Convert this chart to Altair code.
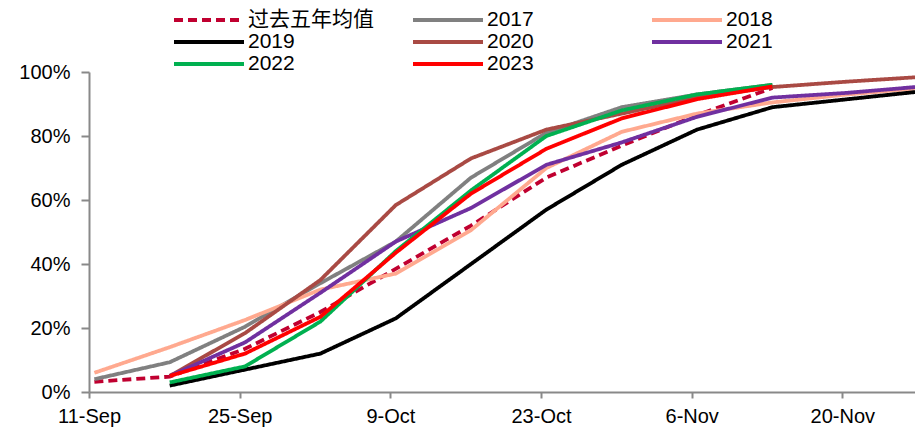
import altair as alt
import pandas as pd

# Weekly observation dates (mid-day of each Monday)
weeks = [
    "2023-09-11T12:00", "2023-09-18T12:00", "2023-09-25T12:00", "2023-10-02T12:00",
    "2023-10-09T12:00", "2023-10-16T12:00", "2023-10-23T12:00", "2023-10-30T12:00",
    "2023-11-06T12:00", "2023-11-13T12:00", "2023-11-20T12:00", "2023-11-27T12:00",
]

series_names = ["过去五年均值", "2017", "2018", "2019", "2020", "2021", "2022", "2023"]
series_colors = ["#C00030", "#808080", "#FFA98F", "#000000", "#A94A44", "#7030A0", "#00B050", "#FF0000"]

# Cumulative progress, percent
avg_5y = [3.2, 4.8, 13.5, 25, 38.5, 52, 67, 77, 86.5, 95]
y2017 = [4, 9.3, 20.4, 34, 47, 67, 81, 89, 93, 96]
y2018 = [6, 14, 22.5, 32, 37, 50.6, 70, 81.3, 87, 90.5, 93, 95]
y2019 = [None, 2, 7, 12, 23, 40, 57, 71, 82, 89, 91.5, 94]
y2020 = [None, 5, 18.4, 35, 58.4, 73, 82, 87, 92, 95.3, 97, 98.5]
y2021 = [None, 5, 15.5, 31, 47, 57.5, 71, 78, 86, 92, 93.5, 95.5]
y2022 = [None, 3, 8, 22, 44, 63, 80, 88, 93, 96]
y2023 = [None, 5, 12, 23.5, 43.5, 62, 76, 85.5, 91.5, 95.5]

values = [avg_5y, y2017, y2018, y2019, y2020, y2021, y2022, y2023]

rows = []
for name, vals in zip(series_names, values):
    for d, v in zip(weeks, vals):
        if v is not None:
            rows.append({"date": d, "series": name, "pct": v})
df = pd.DataFrame(rows)

# The legend grid fills column by column (3 rows), so list the entries in
# that order to read across as avg/2017/2018, 2019/2020/2021, 2022/2023.
legend_order = [0, 3, 6, 1, 4, 7, 2, 5]
legend_names = [series_names[i] for i in legend_order]
legend_colors = [series_colors[i] for i in legend_order]
legend_dashes = [[9, 5] if series_names[i] == "过去五年均值" else [1, 0] for i in legend_order]

tick_dates = [
    alt.DateTime(year=2023, month=9, date=11),
    alt.DateTime(year=2023, month=9, date=25),
    alt.DateTime(year=2023, month=10, date=9),
    alt.DateTime(year=2023, month=10, date=23),
    alt.DateTime(year=2023, month=11, date=6),
    alt.DateTime(year=2023, month=11, date=20),
]

chart = (
    alt.Chart(df)
    .mark_line(strokeWidth=3.8, clip=True)
    .encode(
        x=alt.X(
            "date:T",
            title=None,
            scale=alt.Scale(
                domain=[
                    alt.DateTime(year=2023, month=9, date=11),
                    alt.DateTime(year=2023, month=11, date=26, hours=18),
                ]
            ),
            axis=alt.Axis(
                values=tick_dates,
                format="%-d-%b",
                grid=False,
                tickSize=6,
                labelPadding=8,
                labelAlign="center",
            ),
        ),
        y=alt.Y(
            "pct:Q",
            title=None,
            scale=alt.Scale(domain=[0, 100]),
            axis=alt.Axis(
                values=[0, 20, 40, 60, 80, 100],
                labelExpr="datum.value + '%'",
                grid=False,
                tickSize=8,
                labelPadding=11,
            ),
        ),
        color=alt.Color(
            "series:N",
            title=None,
            scale=alt.Scale(domain=legend_names, range=legend_colors),
            legend=alt.Legend(
                orient="none",
                legendX=83,
                legendY=-63,
                columns=3,
                gridAlign="all",
                columnPadding=37,
                rowPadding=0,
                padding=0,
                symbolType="stroke",
                symbolSize=4900,
                symbolStrokeWidth=4,
                clipHeight=22,
                labelOffset=2,
                labelFontSize=21,
                labelFont="Liberation Sans, Noto Sans CJK SC",
                labelColor="#000000",
                labelLimit=300,
            ),
        ),
        strokeDash=alt.StrokeDash(
            "series:N",
            title=None,
            scale=alt.Scale(domain=legend_names, range=legend_dashes),
        ),
    )
    .properties(
        width=826,
        height=320,
        autosize=alt.AutoSizeParams(type="none"),
        padding={"left": 89, "top": 72, "right": 0, "bottom": 36},
    )
    .configure(font="Liberation Sans", background="white")
    .configure_view(stroke=None)
    .configure_axis(
        domainColor="#898989",
        domainWidth=2,
        tickColor="#898989",
        tickWidth=2,
        labelFontSize=20,
        labelColor="#000000",
        labelFont="Liberation Sans",
    )
)

chart.save("out.html", embed_options={"renderer": "svg", "actions": False})
